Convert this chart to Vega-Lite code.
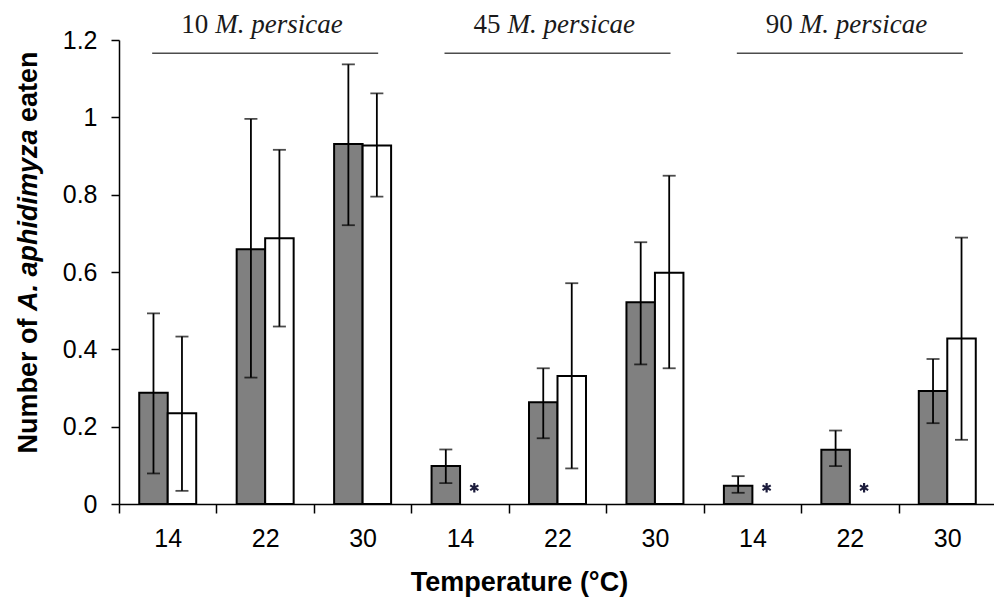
{
  "$schema": "https://vega.github.io/schema/vega-lite/v6.json",
  "width": 877,
  "height": 464,
  "autosize": "none",
  "padding": {"left": 119, "top": 40, "right": 0, "bottom": 96},
  "background": "white",
  "config": {"view": {"stroke": null}},
  "datasets": {
    "eaten": [
      {"cat": "10-14", "series": "I", "mean": 0.288, "lo": 0.079, "hi": 0.493},
      {"cat": "10-14", "series": "II", "mean": 0.235, "lo": 0.034, "hi": 0.433},
      {"cat": "10-22", "series": "I", "mean": 0.659, "lo": 0.327, "hi": 0.996},
      {"cat": "10-22", "series": "II", "mean": 0.687, "lo": 0.459, "hi": 0.916},
      {"cat": "10-30", "series": "I", "mean": 0.931, "lo": 0.721, "hi": 1.137},
      {"cat": "10-30", "series": "II", "mean": 0.927, "lo": 0.795, "hi": 1.062},
      {"cat": "45-14", "series": "I", "mean": 0.098, "lo": 0.054, "hi": 0.141},
      {"cat": "45-14", "series": "II", "mean": 0},
      {"cat": "45-22", "series": "I", "mean": 0.263, "lo": 0.170, "hi": 0.351},
      {"cat": "45-22", "series": "II", "mean": 0.331, "lo": 0.092, "hi": 0.571},
      {"cat": "45-30", "series": "I", "mean": 0.522, "lo": 0.361, "hi": 0.677},
      {"cat": "45-30", "series": "II", "mean": 0.598, "lo": 0.351, "hi": 0.849},
      {"cat": "90-14", "series": "I", "mean": 0.047, "lo": 0.029, "hi": 0.072},
      {"cat": "90-14", "series": "II", "mean": 0},
      {"cat": "90-22", "series": "I", "mean": 0.140, "lo": 0.098, "hi": 0.190},
      {"cat": "90-22", "series": "II", "mean": 0},
      {"cat": "90-30", "series": "I", "mean": 0.292, "lo": 0.209, "hi": 0.375},
      {"cat": "90-30", "series": "II", "mean": 0.428, "lo": 0.166, "hi": 0.689}
    ],
    "blocks": [
      {"cat": "10-22", "density": "10"},
      {"cat": "45-22", "density": "45"},
      {"cat": "90-22", "density": "90"}
    ]
  },
  "layer": [
    {
      "data": {"name": "eaten"},
      "transform": [{"filter": "datum.mean > 0"}],
      "mark": {"type": "bar", "stroke": "black", "strokeWidth": 2},
      "encoding": {
        "x": {
          "field": "cat",
          "type": "nominal",
          "scale": {
            "type": "band",
            "domain": ["10-14", "10-22", "10-30", "45-14", "45-22", "45-30", "90-14", "90-22", "90-30"],
            "paddingInner": 0,
            "paddingOuter": 0
          },
          "axis": {
            "title": "Temperature (°C)",
            "labelExpr": "split(datum.value, '-')[1]",
            "labelAngle": 0,
            "tickBand": "extent",
            "tickSize": 9,
            "tickWidth": 1.5,
            "tickColor": "black",
            "domainColor": "black",
            "domainWidth": 1.5,
            "labelFont": "Liberation Sans",
            "labelFontSize": 25,
            "labelColor": "black",
            "labelPadding": 13,
            "titleFont": "Liberation Sans",
            "titleFontSize": 27,
            "titleFontWeight": "bold",
            "titleColor": "black",
            "titlePadding": 18,
            "titleX": 400,
            "grid": false
          }
        },
        "xOffset": {
          "field": "series",
          "type": "nominal",
          "scale": {"domain": ["I", "II"], "paddingInner": 0, "paddingOuter": 0.71}
        },
        "y": {
          "field": "mean",
          "type": "quantitative",
          "scale": {"domain": [0, 1.2], "nice": false, "zero": true},
          "axis": {
            "title": null,
            "values": [0, 0.2, 0.4, 0.6, 0.8, 1, 1.2],
            "format": "~g",
            "tickSize": 8,
            "tickWidth": 1.5,
            "tickColor": "black",
            "domainColor": "black",
            "domainWidth": 1.5,
            "labelFont": "Liberation Sans",
            "labelFontSize": 25,
            "labelColor": "black",
            "labelPadding": 14,
            "grid": false
          }
        },
        "fill": {
          "field": "series",
          "type": "nominal",
          "scale": {"domain": ["I", "II"], "range": ["#808080", "#ffffff"]},
          "legend": null
        }
      }
    },
    {
      "data": {"name": "eaten"},
      "transform": [{"filter": "isValid(datum.lo)"}],
      "mark": {"type": "rule", "color": "black", "strokeWidth": 1.8},
      "encoding": {
        "x": {"field": "cat", "type": "nominal"},
        "xOffset": {"field": "series", "type": "nominal"},
        "y": {"field": "lo", "type": "quantitative"},
        "y2": {"field": "hi"}
      }
    },
    {
      "data": {"name": "eaten"},
      "transform": [{"filter": "isValid(datum.lo)"}],
      "mark": {"type": "tick", "orient": "horizontal", "color": "black", "size": 13, "thickness": 1.8},
      "encoding": {
        "x": {"field": "cat", "type": "nominal"},
        "xOffset": {"field": "series", "type": "nominal"},
        "y": {"field": "lo", "type": "quantitative"}
      }
    },
    {
      "data": {"name": "eaten"},
      "transform": [{"filter": "isValid(datum.hi)"}],
      "mark": {"type": "tick", "orient": "horizontal", "color": "black", "size": 13, "thickness": 1.8},
      "encoding": {
        "x": {"field": "cat", "type": "nominal"},
        "xOffset": {"field": "series", "type": "nominal"},
        "y": {"field": "hi", "type": "quantitative"}
      }
    },
    {
      "data": {"name": "eaten"},
      "transform": [{"filter": "datum.mean == 0"}],
      "mark": {
        "type": "point",
        "shape": "M0,-1L0,1M-0.866,-0.5L0.866,0.5M-0.866,0.5L0.866,-0.5",
        "filled": false,
        "stroke": "#1c1c3c",
        "strokeWidth": 2.2,
        "size": 90,
        "opacity": 1
      },
      "encoding": {
        "x": {"field": "cat", "type": "nominal"},
        "xOffset": {"field": "series", "type": "nominal"},
        "y": {"datum": 0.042}
      }
    },
    {
      "data": {"name": "blocks"},
      "mark": {"type": "tick", "orient": "horizontal", "color": "black", "size": 226, "thickness": 1.5},
      "encoding": {
        "x": {"field": "cat", "type": "nominal"},
        "y": {"datum": 1.166}
      }
    },
    {
      "data": {"name": "blocks"},
      "mark": {
        "type": "text",
        "align": "right",
        "baseline": "alphabetic",
        "dx": -57,
        "font": "Liberation Serif",
        "fontSize": 27,
        "color": "#1a1a1a"
      },
      "encoding": {
        "x": {"field": "cat", "type": "nominal"},
        "y": {"datum": 1.218},
        "text": {"field": "density"}
      }
    },
    {
      "data": {"name": "blocks"},
      "mark": {
        "type": "text",
        "align": "left",
        "baseline": "alphabetic",
        "dx": -50,
        "font": "Liberation Serif",
        "fontStyle": "italic",
        "fontSize": 27,
        "color": "#1a1a1a"
      },
      "encoding": {
        "x": {"field": "cat", "type": "nominal"},
        "y": {"datum": 1.218},
        "text": {"value": "M. persicae"}
      }
    },
    {
      "data": {"values": [{}]},
      "mark": {
        "type": "text",
        "angle": 270,
        "align": "left",
        "baseline": "middle",
        "dy": -90,
        "font": "Liberation Sans",
        "fontWeight": "bold",
        "fontSize": 27,
        "color": "black"
      },
      "encoding": {
        "x": {"datum": "10-14", "type": "nominal", "bandPosition": 0},
        "y": {"datum": 0.1306},
        "text": {"value": "Number of"}
      }
    },
    {
      "data": {"values": [{}]},
      "mark": {
        "type": "text",
        "angle": 270,
        "align": "left",
        "baseline": "middle",
        "dy": -90,
        "font": "Liberation Sans",
        "fontWeight": "bold",
        "fontStyle": "italic",
        "fontSize": 27,
        "color": "black"
      },
      "encoding": {
        "x": {"datum": "10-14", "type": "nominal", "bandPosition": 0},
        "y": {"datum": 0.4991},
        "text": {"value": "A. aphidimyza"}
      }
    },
    {
      "data": {"values": [{}]},
      "mark": {
        "type": "text",
        "angle": 270,
        "align": "left",
        "baseline": "middle",
        "dy": -90,
        "font": "Liberation Sans",
        "fontWeight": "bold",
        "fontSize": 27,
        "color": "black"
      },
      "encoding": {
        "x": {"datum": "10-14", "type": "nominal", "bandPosition": 0},
        "y": {"datum": 0.9879},
        "text": {"value": "eaten"}
      }
    }
  ]
}
